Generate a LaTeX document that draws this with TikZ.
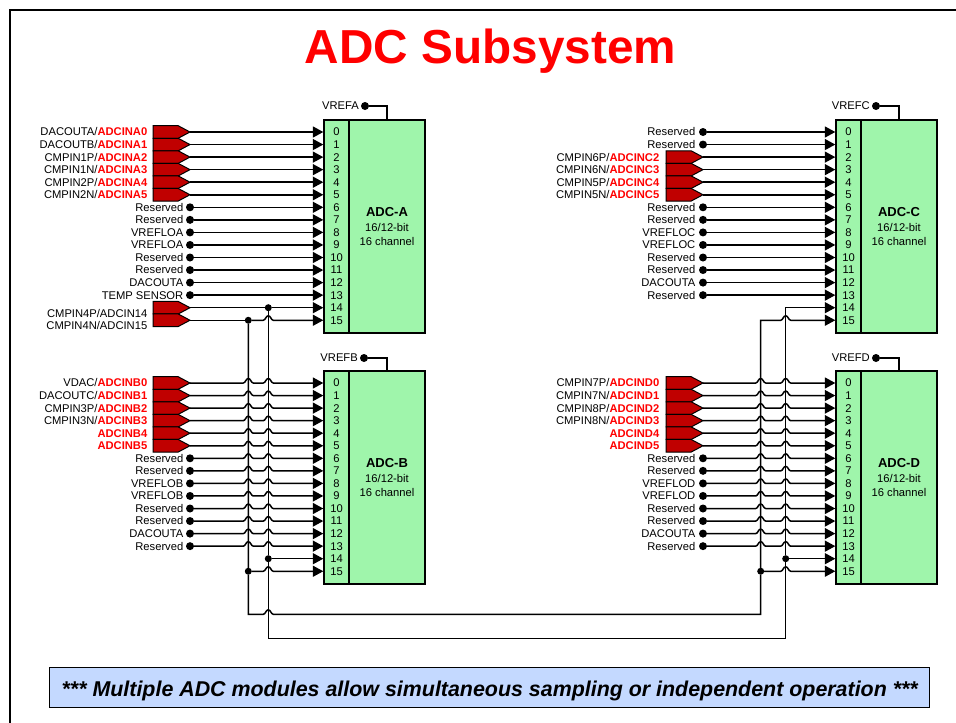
\documentclass[tikz,border=0pt]{standalone}
\usepackage{fontspec}
\setmainfont{Liberation Sans}
\usetikzlibrary{arrows.meta,shapes.symbols,calc}
\definecolor{sigred}{HTML}{C00000}
\definecolor{blockgreen}{HTML}{9FF5AB}
\definecolor{noteblue}{HTML}{C4D9FF}
\tikzset{
  x=1pt,y=-1pt,
  lab/.style={font=\fontsize{11.2}{13}\selectfont,inner sep=0pt},
  wire/.style={line width=1.5pt,line join=miter},
  awire/.style={wire,-{Triangle[length=10.5pt,width=11pt]}},
  sigbox/.style={signal,signal to=east,signal pointer angle=56,draw=black,line width=1pt,fill=sigred,
    minimum width=37pt,minimum height=12.55pt,inner sep=0pt,outer sep=0pt,anchor=east},
  pindot/.style={circle,fill=black,minimum size=8pt,inner sep=0pt,outer sep=0pt},
  jct/.style={circle,fill=black,minimum size=7pt,inner sep=0pt,outer sep=0pt},
  mainbox/.style={draw=black,line width=1.4pt,fill=blockgreen,minimum width=76pt,minimum height=213pt,inner sep=0pt},
  pinbox/.style={draw=black,line width=1.4pt,fill=blockgreen,minimum width=25pt,minimum height=213pt,inner sep=0pt},
  hop/.style 2 args={insert path={-- ([xshift=-5pt]#1|-#2)
     .. controls +(2.2,0) and +(-2.4,0) .. ([yshift=4.5pt]#1|-#2)
     .. controls +(2.4,0) and +(-2.2,0) .. ([xshift=5pt]#1|-#2)}},
}
% signal source: side (L/R), pin, prefix text, red text
\newcommand{\sigin}[5][0]{%
  \node[sigbox] (s#3) at (#3 -| #2dot) {};
  \node[lab,anchor=base east] (t#3) at ([yshift={-3.9pt-#1pt}]#3 -| #2slab) {#4\textcolor{red}{\bfseries #5}};
}
% dot source: side (L/R), pin, text
\newcommand{\dotin}[3]{%
  \node[pindot] (s#2) at (#2 -| #1dot) {};
  \node[lab,anchor=base east] (t#2) at ([yshift=-3.9pt]#2 -| #1dlab) {#3};
}
% block: letter, main centre x, pin centre x, top y, vref dot x, vref dot y, vref name
\newcommand{\adcblock}[7]{%
  \node[mainbox] (m#1) at (#2,#4+106.5) {};
  \node[pinbox] (p#1) at (#3,#4+106.5) {};
  \foreach \i in {0,...,15}{
    \coordinate (#1\i) at ($(p#1.west|-0,#4+12+\i*12.55)$);
    \node[lab,anchor=base] (n#1\i) at ([yshift=-3.9pt]#3,#4+12+\i*12.55) {\i};
  }
  \node[lab,anchor=base] (ta#1) at (#2,#4+96) {\fontsize{13}{15}\selectfont\bfseries ADC-#1};
  \node[lab,anchor=base] (tb#1) at (#2,#4+111) {16/12-bit};
  \node[lab,anchor=base] (tc#1) at (#2,#4+125.5) {16 channel};
  \node[pindot] (v#1) at (#5,#6) {};
  \node[lab,anchor=base east] (vt#1) at ($(v#1)+(-6,3.9)$) {#7};
  \draw[wire] (v#1) -| (m#1.north);
}
\begin{document}
\begin{tikzpicture}
\useasboundingbox (0,0) rectangle (956,723);
\fill[white] (0,0) rectangle (956,723);
\draw[line width=2.4pt,line cap=butt] (10,723) -- (10,10) -- (956,10);
\node[inner sep=0pt,text=red,anchor=base,font=\fontsize{47.7}{50}\selectfont\bfseries] (title) at (490.5,63) {ADC Subsystem};

% columns and buses
\coordinate (Lslab) at (147.5,0); \coordinate (Rslab) at (659.5,0);
\coordinate (Ldot) at (190,0); \coordinate (Rdot) at (703,0);
\coordinate (Ldlab) at (183.5,0); \coordinate (Rdlab) at (695.5,0);
\coordinate (Lb1) at (248.3,0); \coordinate (Lb2) at (268.3,0);
\coordinate (Rb1) at (760.7,0); \coordinate (Rb2) at (785.7,0);
\coordinate (low1) at (0,614.3); \coordinate (low2) at (0,638.3);

\adcblock{A}{387}{336.5}{120}{365}{106}{VREFA}
\adcblock{B}{387}{336.5}{371}{364}{358}{VREFB}
\adcblock{C}{899}{848.5}{120}{876}{106}{VREFC}
\adcblock{D}{899}{848.5}{371}{876}{358}{VREFD}

% sources, block A
\sigin{L}{A0}{DACOUTA/}{ADCINA0}
\sigin{L}{A1}{DACOUTB/}{ADCINA1}
\sigin{L}{A2}{CMPIN1P/}{ADCINA2}
\sigin{L}{A3}{CMPIN1N/}{ADCINA3}
\sigin{L}{A4}{CMPIN2P/}{ADCINA4}
\sigin{L}{A5}{CMPIN2N/}{ADCINA5}
\dotin{L}{A6}{Reserved}
\dotin{L}{A7}{Reserved}
\dotin{L}{A8}{VREFLOA}
\dotin{L}{A9}{VREFLOA}
\dotin{L}{A10}{Reserved}
\dotin{L}{A11}{Reserved}
\dotin{L}{A12}{DACOUTA}
\dotin{L}{A13}{TEMP SENSOR}
\sigin[5.5]{L}{A14}{CMPIN4P/ADCIN14}{}
\sigin[5.5]{L}{A15}{CMPIN4N/ADCIN15}{}
% block B
\sigin{L}{B0}{VDAC/}{ADCINB0}
\sigin{L}{B1}{DACOUTC/}{ADCINB1}
\sigin{L}{B2}{CMPIN3P/}{ADCINB2}
\sigin{L}{B3}{CMPIN3N/}{ADCINB3}
\sigin{L}{B4}{}{ADCINB4}
\sigin{L}{B5}{}{ADCINB5}
\dotin{L}{B6}{Reserved}
\dotin{L}{B7}{Reserved}
\dotin{L}{B8}{VREFLOB}
\dotin{L}{B9}{VREFLOB}
\dotin{L}{B10}{Reserved}
\dotin{L}{B11}{Reserved}
\dotin{L}{B12}{DACOUTA}
\dotin{L}{B13}{Reserved}
% block C
\dotin{R}{C0}{Reserved}
\dotin{R}{C1}{Reserved}
\sigin{R}{C2}{CMPIN6P/}{ADCINC2}
\sigin{R}{C3}{CMPIN6N/}{ADCINC3}
\sigin{R}{C4}{CMPIN5P/}{ADCINC4}
\sigin{R}{C5}{CMPIN5N/}{ADCINC5}
\dotin{R}{C6}{Reserved}
\dotin{R}{C7}{Reserved}
\dotin{R}{C8}{VREFLOC}
\dotin{R}{C9}{VREFLOC}
\dotin{R}{C10}{Reserved}
\dotin{R}{C11}{Reserved}
\dotin{R}{C12}{DACOUTA}
\dotin{R}{C13}{Reserved}
% block D
\sigin{R}{D0}{CMPIN7P/}{ADCIND0}
\sigin{R}{D1}{CMPIN7N/}{ADCIND1}
\sigin{R}{D2}{CMPIN8P/}{ADCIND2}
\sigin{R}{D3}{CMPIN8N/}{ADCIND3}
\sigin{R}{D4}{}{ADCIND4}
\sigin{R}{D5}{}{ADCIND5}
\dotin{R}{D6}{Reserved}
\dotin{R}{D7}{Reserved}
\dotin{R}{D8}{VREFLOD}
\dotin{R}{D9}{VREFLOD}
\dotin{R}{D10}{Reserved}
\dotin{R}{D11}{Reserved}
\dotin{R}{D12}{DACOUTA}
\dotin{R}{D13}{Reserved}

% junctions
\node[jct] (jA14) at (A14 -| Lb2) {};
\node[jct] (jA15) at (A15 -| Lb1) {};
\node[jct] (jB14) at (B14 -| Lb2) {};
\node[jct] (jB15) at (B15 -| Lb1) {};
\node[jct] (jD14) at (D14 -| Rb2) {};
\node[jct] (jD15) at (D15 -| Rb1) {};

% buses
\draw[wire] (jA15) -- (jB15) -- (Lb1|-low1) [hop={Lb2}{low1}] -- (Rb1|-low1) -- (jD15);
\draw[wire] (jA14) -- (jB14) -- (Lb2|-low2) -- (Rb2|-low2) -- (jD14);

% straight inputs
\foreach \i in {0,...,13}{
  \draw[awire] (sA\i.east) -- (A\i);
  \draw[awire] (sC\i.east) -- (C\i);
  \draw[awire] (sB\i.east) [hop={Lb1}{B\i}] [hop={Lb2}{B\i}] -- (B\i);
  \draw[awire] (sD\i.east) [hop={Rb1}{D\i}] [hop={Rb2}{D\i}] -- (D\i);
}
% inputs 14 and 15
\draw[wire] (sA14.east) -- (jA14);
\draw[awire] (jA14) -- (A14);
\draw[wire] (sA15.east) -- (jA15);
\draw[awire] (jA15) [hop={Lb2}{A15}] -- (A15);
\draw[awire] (jB14) -- (B14);
\draw[awire] (jB15) [hop={Lb2}{B15}] -- (B15);
\draw[awire] (jD14) -- (Rb2|-C14) -- (C14);
\draw[awire] (jD15) -- (Rb1|-C15) [hop={Rb2}{C15}] -- (C15);
\draw[awire] (jD14) -- (D14);
\draw[awire] (jD15) [hop={Rb2}{D15}] -- (D15);

% note
\node[draw=black,line width=1pt,fill=noteblue,minimum width=880pt,minimum height=40pt,inner sep=0pt,
  font=\fontsize{21.4}{24}\selectfont\bfseries\itshape] (note) at (489.7,687.3)
  {\raisebox{-8.7pt}[0pt][0pt]{*** Multiple ADC modules allow simultaneous sampling or independent operation ***}};
\end{tikzpicture}
\end{document}
